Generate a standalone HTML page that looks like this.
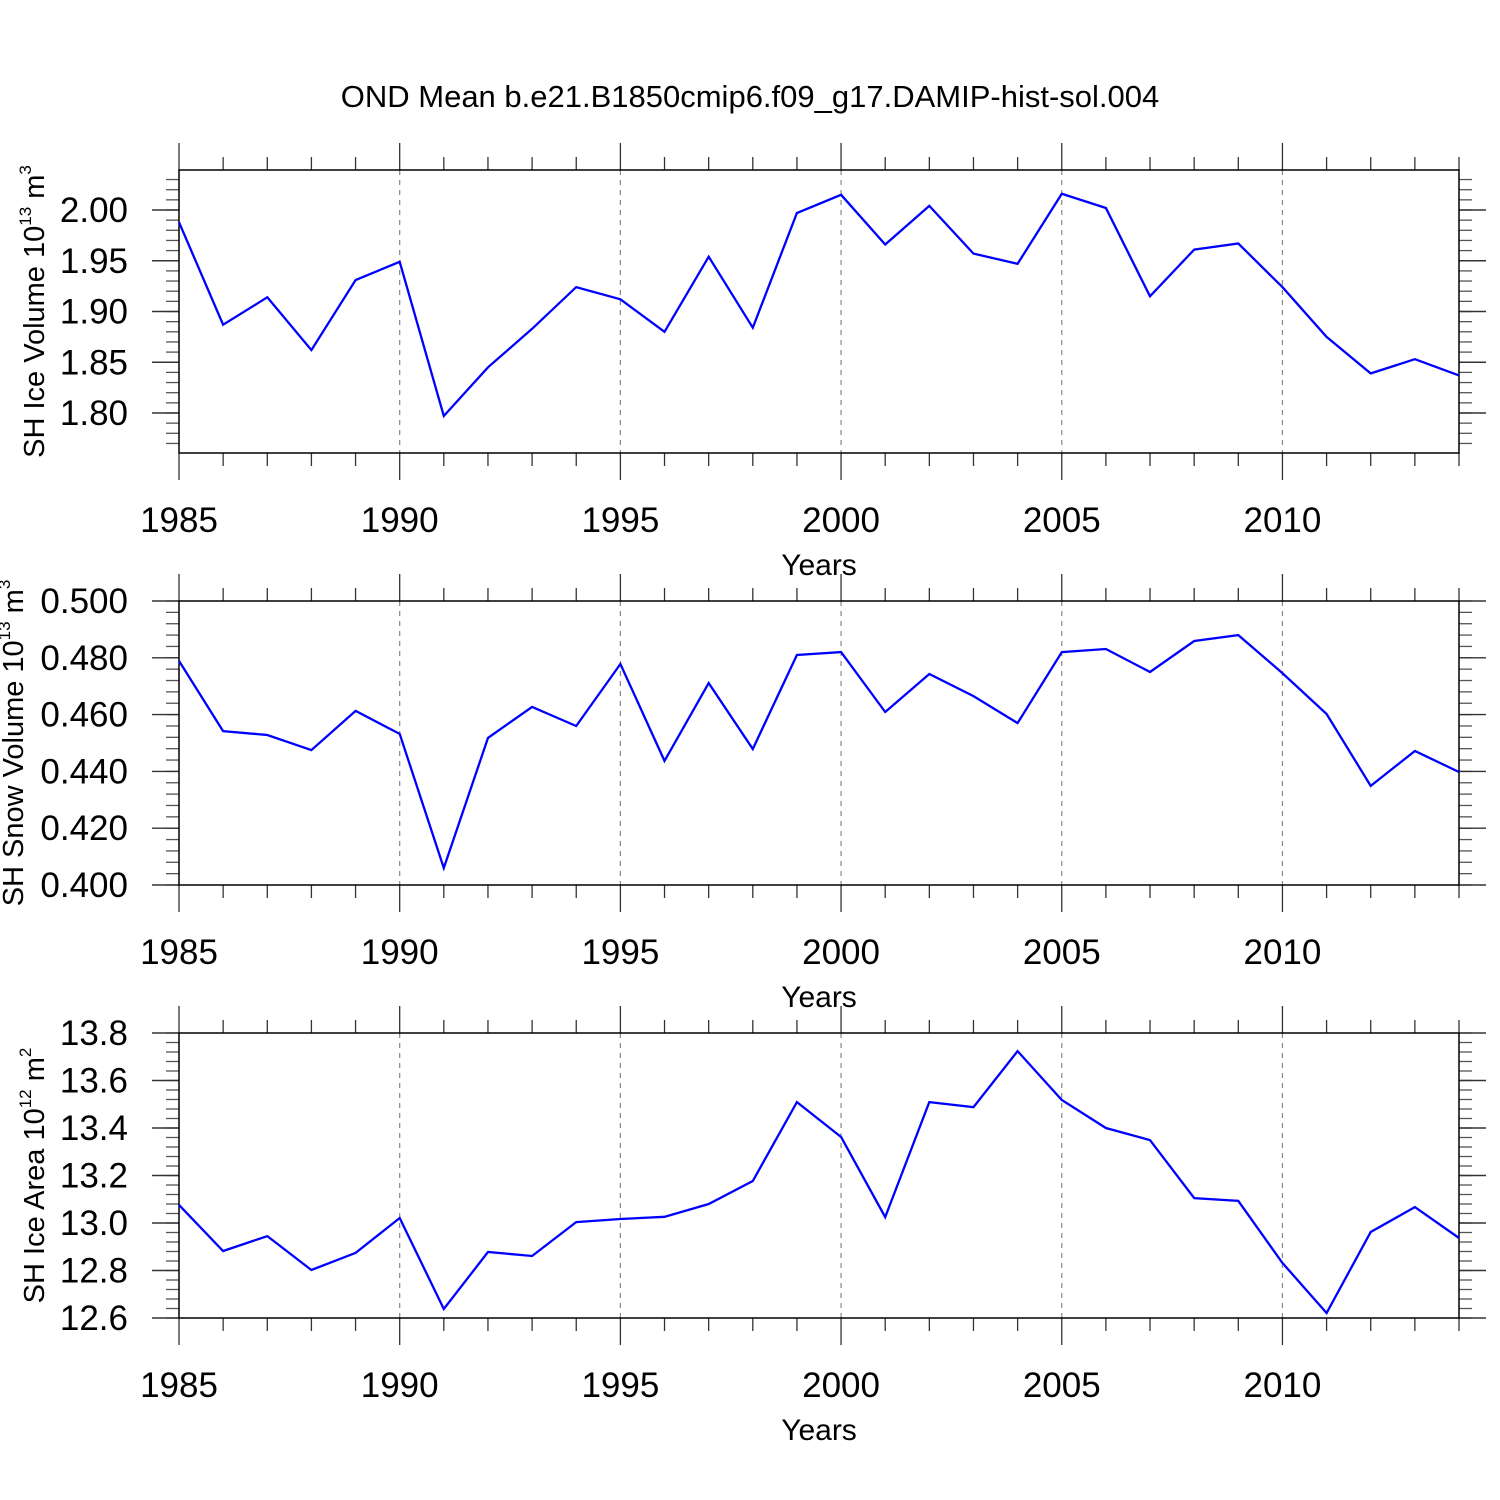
<!DOCTYPE html>
<html><head><meta charset="utf-8"><style>
html,body{margin:0;padding:0;background:#fff;}
svg{display:block;font-family:"Liberation Sans",sans-serif;}
</style></head><body>
<svg id="c" width="1500" height="1500" viewBox="0 0 1500 1500">
<text x="750" y="107" font-size="31" text-anchor="middle">OND Mean b.e21.B1850cmip6.f09_g17.DAMIP-hist-sol.004</text>
</svg>
<script>
const years = [1985,1986,1987,1988,1989,1990,1991,1992,1993,1994,1995,1996,1997,1998,1999,2000,2001,2002,2003,2004,2005,2006,2007,2008,2009,2010,2011,2012,2013,2014];
const iceVolume = [1.988,1.887,1.914,1.862,1.931,1.949,1.797,1.845,1.883,1.924,1.912,1.880,1.954,1.884,1.997,2.015,1.966,2.004,1.957,1.947,2.016,2.002,1.915,1.961,1.967,1.924,1.875,1.839,1.853,1.837];
const snowVolume = [0.4789,0.4542,0.4528,0.4475,0.4613,0.4532,0.406,0.4518,0.4627,0.456,0.4778,0.4437,0.4711,0.4479,0.481,0.482,0.4609,0.4743,0.4665,0.457,0.482,0.4831,0.475,0.4859,0.488,0.4746,0.4602,0.4349,0.4472,0.4398];
const iceArea = [13.076,12.882,12.945,12.802,12.874,13.021,12.638,12.878,12.861,13.004,13.017,13.026,13.080,13.177,13.509,13.362,13.025,13.509,13.488,13.724,13.518,13.4,13.349,13.105,13.093,12.832,12.621,12.962,13.067,12.937];
const xTickLabels = ["1985","1990","1995","2000","2005","2010"];
const iceVolTicks = ["1.80","1.85","1.90","1.95","2.00"];
const snowTicks = ["0.400","0.420","0.440","0.460","0.480","0.500"];
const areaTicks = ["12.6","12.8","13.0","13.2","13.4","13.6","13.8"];

const NS="http://www.w3.org/2000/svg";
const svg=document.getElementById('c');
function mk(tag,attrs,parent){const e=document.createElementNS(NS,tag);for(const k in attrs)e.setAttribute(k,attrs[k]);(parent||svg).appendChild(e);return e;}

const X0=179,X1=1459;
const xMin=1985,xMax=2014;
function xs(v){return X0+(v-xMin)/(xMax-xMin)*(X1-X0);}

const panels=[
 {name:'ice-volume',top:170,bot:453,ymin:1.80-40/1015,ymax:2.00+40/1015,data:iceVolume,ticks:iceVolTicks,minor:0.01,tx:44,title:['SH Ice Volume 10','13',' m','3']},
 {name:'snow-volume',top:601,bot:885,ymin:0.4,ymax:0.5,data:snowVolume,ticks:snowTicks,minor:0.004,tx:23,title:['SH Snow Volume 10','13',' m','3']},
 {name:'ice-area',top:1033,bot:1318,ymin:12.6,ymax:13.8,data:iceArea,ticks:areaTicks,minor:0.04,tx:44,title:['SH Ice Area 10','12',' m','2']}
];

panels.forEach(p=>{
 const g=mk('g',{});
 
 
 const ys=v=>p.bot-(v-p.ymin)/(p.ymax-p.ymin)*(p.bot-p.top);
 for(let i=1;i<xTickLabels.length;i++){
  const x=xs(+xTickLabels[i]);
  const l=mk('line',{x1:x,x2:x,y1:p.top,y2:p.bot,stroke:'#888','stroke-width':1.2,'stroke-dasharray':'5,5'},g);
  
  
 }
 years.forEach(y=>{
  const x=xs(y), maj=(y%5===0), L=maj?27:13;
  mk('line',{x1:x,x2:x,y1:p.top,y2:p.top-L,stroke:'#333','stroke-width':1.3},g);
  mk('line',{x1:x,x2:x,y1:p.bot,y2:p.bot+L,stroke:'#333','stroke-width':1.3},g);
 });
 xTickLabels.forEach(t=>{
  const tx=mk('text',{x:xs(+t),y:p.bot+79,'font-size':35,'text-anchor':'middle'},g);
  tx.textContent=t;
  
  
 });
 const xt=mk('text',{x:819,y:p.bot+122,'font-size':30,'text-anchor':'middle'},g);
 xt.textContent='Years';
 
 
 const nMin=Math.ceil(p.ymin/p.minor-1e-6), nMax=Math.floor(p.ymax/p.minor+1e-6);
 for(let n=nMin;n<=nMax;n++){
  const y=ys(n*p.minor);
  mk('line',{x1:X0,x2:X0-13,y1:y,y2:y,stroke:'#555','stroke-width':1.3},g);
  mk('line',{x1:X1,x2:X1+13,y1:y,y2:y,stroke:'#555','stroke-width':1.3},g);
 }
 p.ticks.forEach(t=>{
  const y=ys(+t);
  mk('line',{x1:X0,x2:X0-27,y1:y,y2:y,stroke:'#333','stroke-width':1.4},g);
  mk('line',{x1:X1,x2:X1+27,y1:y,y2:y,stroke:'#333','stroke-width':1.4},g);
  const tx=mk('text',{x:128,y:y+12,'font-size':35,'text-anchor':'end'},g);
  tx.textContent=t;
  
  
 });
 const r=mk('rect',{x:X0,y:p.top,width:X1-X0,height:p.bot-p.top,fill:'none',stroke:'#000','stroke-width':1.5},g);
 
 
 const pts=years.map((yr,i)=>xs(yr).toFixed(1)+','+ys(p.data[i]).toFixed(1)).join(' ');
 const pl=mk('polyline',{points:pts,fill:'none',stroke:'#0000ff','stroke-width':2.3,'stroke-linejoin':'miter'},g);
 
 
 const cy=(p.top+p.bot)/2;
 const t=mk('text',{transform:`translate(${p.tx},${cy}) rotate(-90)`,'font-size':29,'text-anchor':'middle'},g);
 
 
 const s1=mk('tspan',{},t); s1.textContent=p.title[0];
 const s2=mk('tspan',{dy:-13,'font-size':17},t); s2.textContent=p.title[1];
 const s3=mk('tspan',{dy:13},t); s3.textContent=p.title[2];
 const s4=mk('tspan',{dy:-13,'font-size':17},t); s4.textContent=p.title[3];
});
</script>
</body></html>
